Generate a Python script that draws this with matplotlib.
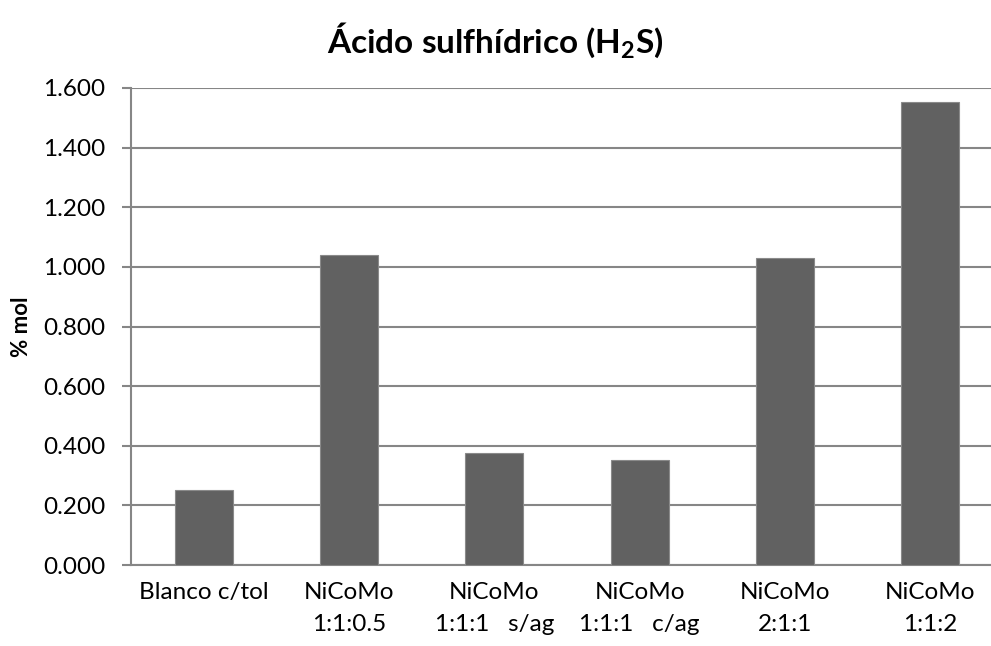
import matplotlib
matplotlib.use("Agg")
import matplotlib.pyplot as plt
from matplotlib.ticker import FuncFormatter

categories = ["Blanco c/tol", "NiCoMo\n1:1:0.5", "NiCoMo\n1:1:1   s/ag",
              "NiCoMo\n1:1:1   c/ag", "NiCoMo\n2:1:1", "NiCoMo\n1:1:2"]
values = [0.252, 1.039, 0.375, 0.351, 1.030, 1.553]
yticks = [0.0, 0.2, 0.4, 0.6, 0.8, 1.0, 1.2, 1.4, 1.6]

plt.rcParams['font.family'] = ['Lato', 'DejaVu Sans']
plt.rcParams['mathtext.fontset'] = 'custom'
plt.rcParams['mathtext.rm'] = 'Lato'
plt.rcParams['mathtext.bf'] = 'Lato:bold'

fig = plt.figure(figsize=(9.91, 6.46), dpi=100)
ax = fig.add_axes([131/991, 1-565/646, (1003-131)/991, (565-88)/646])

x = list(range(len(categories)))
ax.bar(x, values, width=0.40, color='#616161', edgecolor='#8a8a8a', linewidth=0.8, zorder=3)

ax.set_xlim(-0.5, len(categories)-0.5)
ax.set_ylim(0, 1.6)
ax.set_yticks(yticks)
ax.yaxis.set_major_formatter(FuncFormatter(lambda v, p: f"{v:.3f}"))
ax.grid(axis='y', color='#868686', linewidth=1.5, zorder=0)
ax.set_axisbelow(True)

for s in ['top', 'right']:
    ax.spines[s].set_visible(False)
ax.spines['left'].set_color('#868686')
ax.spines['left'].set_linewidth(1.5)
ax.spines['bottom'].set_color('#868686')
ax.spines['bottom'].set_linewidth(1.5)

ax.tick_params(axis='y', length=6.5, width=1.5, color='#868686', labelsize=17.5, pad=12)
ax.tick_params(axis='x', length=0, labelsize=17.5, pad=12)
ax.set_xticks(x)
ax.set_xticklabels(categories, linespacing=1.65)

ax.set_ylabel('% mol', fontsize=16, fontweight='bold')
ax.yaxis.set_label_coords(-0.114, 0.5)

fig.text(495/991, 1-41/646, r'Ácido sulfhídrico (H$_\mathbf{2}$S)', ha='center', va='center',
         fontsize=24, fontweight='bold')

fig.savefig('out.png', dpi=100)
